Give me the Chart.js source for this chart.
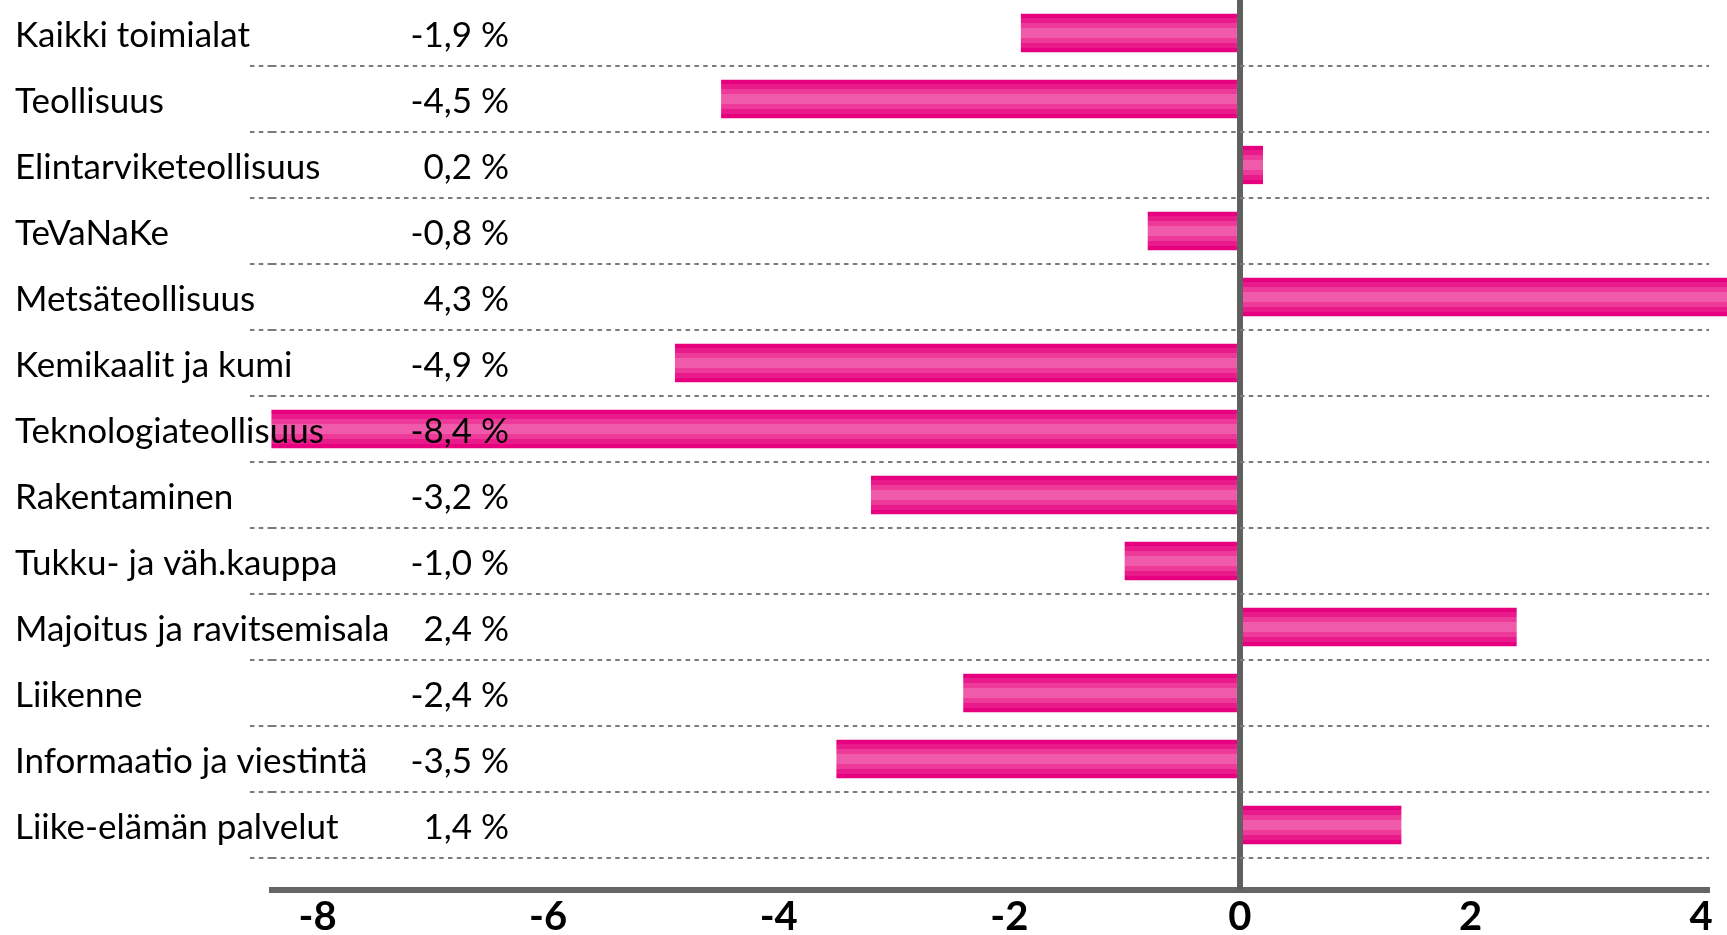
<!DOCTYPE html>
<html>
<head>
<meta charset="utf-8">
<script src="https://cdn.jsdelivr.net/npm/chart.js@4.4.1/dist/chart.umd.min.js"></script>
<style>
  html, body { margin: 0; padding: 0; background: #fff; }
  #wrap { width: 1727px; height: 935px; position: relative; }
</style>
</head>
<body>
<div id="wrap"><canvas id="chart"></canvas></div>
<script>
// data
const categories = [
  "Kaikki toimialat", "Teollisuus", "Elintarviketeollisuus", "TeVaNaKe",
  "Metsäteollisuus", "Kemikaalit ja kumi", "Teknologiateollisuus", "Rakentaminen",
  "Tukku- ja väh.kauppa", "Majoitus ja ravitsemisala", "Liikenne",
  "Informaatio ja viestintä", "Liike-elämän palvelut"
];
const values = [-1.9, -4.5, 0.2, -0.8, 4.3, -4.9, -8.4, -3.2, -1.0, 2.4, -2.4, -3.5, 1.4];
const tickValues = [-8, -6, -4, -2, 0, 2, 4];

const axisMin = -8.395;
const axisMax = 4.068;

// "-1,9 %" style labels
const valueLabels = values.map(v => v.toFixed(1).replace(".", ",") + " %");

// striped magenta fill, light in the middle
const stripes = [
  [0.00, "#e6007e"], [0.11, "#e91a8b"], [0.24, "#ed3a99"], [0.37, "#f05aab"],
  [0.63, "#ed3a99"], [0.76, "#e91a8b"], [0.89, "#e6007e"]
];
const barPct = 0.58;

function barFill(ctx) {
  const chart = ctx.chart;
  if (ctx.type !== "data" || !chart.chartArea || !chart.scales.y) return "#e6007e";
  const y = chart.scales.y;
  const band = Math.abs(y.getPixelForValue(1) - y.getPixelForValue(0));
  const h = band * barPct;
  const yc = y.getPixelForValue(ctx.dataIndex);
  if (!isFinite(yc) || !(h > 0)) return "#e6007e";
  const g = chart.ctx.createLinearGradient(0, yc - h / 2, 0, yc + h / 2);
  stripes.forEach(([p, c], i) => {
    const end = i < stripes.length - 1 ? stripes[i + 1][0] : 1;
    g.addColorStop(p, c);
    g.addColorStop(end, c);
  });
  return g;
}

const labelFont = { family: "Lato", size: 35 };
const dash = [4.5, 4.3];
const setTicks = s => { s.ticks = tickValues.map(v => ({ value: v })); };
// label axes: fixed width, and no extra top/bottom padding from the big tick padding
const fixWidth = w => s => { s.width = w; s.paddingTop = 0; s.paddingBottom = 0; };

new Chart(document.getElementById("chart"), {
  type: "bar",
  data: {
    labels: categories,
    datasets: [{
      data: values,
      backgroundColor: barFill,
      borderWidth: 0,
      barPercentage: barPct,
      categoryPercentage: 1,
      clip: false
    }]
  },
  options: {
    indexAxis: "y",
    responsive: true,
    maintainAspectRatio: false,
    animation: false,
    layout: { padding: { left: 0, right: 18, top: 0, bottom: 0 } },
    plugins: { legend: { display: false }, tooltip: { enabled: false } },
    scales: {
      // zero line (grid + tick mark down to the axis line)
      x: {
        type: "linear", position: "bottom", weight: 0,
        min: axisMin, max: axisMax,
        afterBuildTicks: setTicks,
        afterFit: s => { s.height = 32; },
        ticks: { display: false },
        grid: {
          z: 1,
          color: c => (c.tick && c.tick.value === 0 ? "#606060" : "rgba(0,0,0,0)"),
          lineWidth: 6,
          drawTicks: true,
          tickLength: 32
        },
        border: { display: false }
      },
      // axis line + tick labels
      x2: {
        type: "linear", position: "bottom", weight: 1,
        min: axisMin, max: axisMax,
        afterBuildTicks: setTicks,
        afterFit: s => { s.height = 45; },
        grid: { display: false, drawTicks: false },
        border: { display: true, color: "#666666", width: 6 },
        ticks: {
          color: "#000",
          font: { family: "Lato", size: 40, weight: "bold" },
          padding: 3,
          maxRotation: 0,
          autoSkip: false,
          callback: v => String(v)
        }
      },
      // category names
      y: {
        type: "category", position: "left", offset: true,
        afterFit: fixWidth(272),
        grid: {
          z: 1,
          offset: true,
          color: c => (c.index === 0 ? "rgba(0,0,0,0)" : "#7a7a7a"),
          lineWidth: 2,
          tickBorderDash: dash,
          drawTicks: true,
          tickLength: 22
        },
        border: { display: false, dash: dash },
        ticks: {
          z: 1,
          mirror: true, crossAlign: "near", padding: -257,
          color: "#000", font: labelFont, autoSkip: false, labelOffset: 3
        }
      },
      // percentage column, right-aligned at x = 509
      y2: {
        type: "category", labels: valueLabels, position: "right", offset: true,
        afterFit: fixWidth(0),
        grid: { display: false, drawTicks: false },
        border: { display: false },
        ticks: {
          z: 1,
          mirror: true, crossAlign: "near", padding: -1200,
          color: "#000", font: labelFont, autoSkip: false, labelOffset: 3
        }
      }
    }
  }
});
</script>
</body>
</html>
